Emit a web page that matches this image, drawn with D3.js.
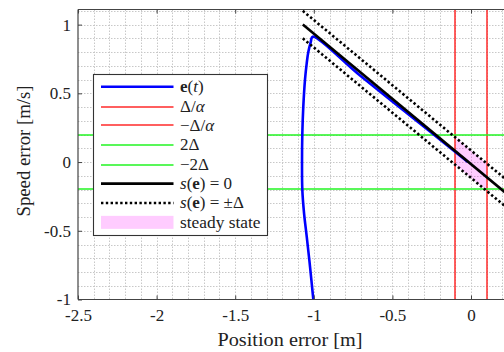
<!DOCTYPE html>
<html>
<head>
<meta charset="utf-8">
<script src="https://cdn.jsdelivr.net/npm/d3@7"></script>
<style>
  html, body { margin: 0; padding: 0; background: #fff; }
  svg { display: block; }
  svg text { font-family: "Liberation Serif", "DejaVu Serif", serif; fill: #222; }
</style>
</head>
<body>
<script>
// Phase-plane trajectory of the tracking error (position error vs speed error)
const xTicks = [-2.5, -2, -1.5, -1, -0.5, 0];
const xTickLabels = ["-2.5", "-2", "-1.5", "-1", "-0.5", "0"];
const yTicks = [-1, -0.5, 0, 0.5, 1];
const yTickLabels = ["-1", "-0.5", "0", "0.5", "1"];

// trajectory e(t): position error and speed error
const ePos = [-1.003, -1.024, -1.045, -1.062, -1.073, -1.075, -1.073, -1.067, -1.056, -1.045, -1.035, -1.020, -1.007, -0.706, -0.261, -0.020];
const eVel = [-1.0, -0.762, -0.543, -0.373, -0.204, -0.01, 0.209, 0.40, 0.60, 0.72, 0.80, 0.87, 0.912, 0.630, 0.222, 0.0];

// sliding surface s(e) = 0, drawn between these end points
const sPos = [-1.07, 0.30];
const sVel = [1.0, -0.30];

const Delta = 0.1;        // boundary layer width
const alpha = 1;          // position threshold Δ/α
const greenLevels = [2 * Delta, -2 * Delta];
const redLevels = [Delta / alpha, -Delta / alpha];

const RED = "#ff2a2a", GREEN = "#22f522";

const W = 504, H = 352;
const svg = d3.select("body").append("svg").attr("width", W).attr("height", H);

const x = d3.scaleLinear().domain([-2.5, 0.22]).range([78, 505.6]);
const y = d3.scaleLinear().domain([-1, 1.11]).range([299.5, 9.5]);
const crisp = v => Math.round(v) + 0.5;
// two-pixel band placement for the thin coloured threshold lines
const band = v => 2 * Math.floor(v / 2) + 1;

const x0 = x.range()[0], x1 = x.range()[1];
const y0 = y.range()[0], y1 = y.range()[1];

svg.append("defs").append("clipPath").attr("id", "plotClip")
  .append("rect").attr("x", x0).attr("y", y1).attr("width", x1 - x0).attr("height", y0 - y1);

// dotted grid every 0.1
const gridG = svg.append("g").attr("clip-path", "url(#plotClip)");
const xGrid = d3.range(-24, 3).map(i => i / 10);
const yGrid = d3.range(-9, 12).map(i => i / 10);
gridG.selectAll("line.gx").data(xGrid).join("line").attr("class", "gx")
  .attr("x1", d => crisp(x(d))).attr("x2", d => crisp(x(d))).attr("y1", y1).attr("y2", y0)
  .attr("stroke", "#c8c8c8").attr("stroke-width", 1).attr("stroke-dasharray", "1.5,1.5");
gridG.selectAll("line.gy").data(yGrid).join("line").attr("class", "gy")
  .attr("y1", d => crisp(y(d))).attr("y2", d => crisp(y(d))).attr("x1", x0).attr("x2", x1)
  .attr("stroke", "#c8c8c8").attr("stroke-width", 1).attr("stroke-dasharray", "1.5,1.5");

const plot = svg.append("g").attr("clip-path", "url(#plotClip)");

// surface line helper: speed on s(e)=0 at a given position
const sSlope = (sVel[1] - sVel[0]) / (sPos[1] - sPos[0]);
const sAt = p => sVel[0] + sSlope * (p - sPos[0]);

// steady state region: between ±Δ/α and s(e) = ±Δ
const pL = -Delta / alpha, pR = Delta / alpha;
const steady = [[pL, sAt(pL) + Delta], [pR, sAt(pR) + Delta], [pR, sAt(pR) - Delta], [pL, sAt(pL) - Delta]];
plot.append("path")
  .attr("d", d3.line().x(d => x(d[0])).y(d => y(d[1]))(steady) + "Z")
  .attr("fill", "#ff00ff").attr("fill-opacity", 0.2).attr("stroke", "none");

// thresholds
plot.selectAll("line.red").data(redLevels).join("line").attr("class", "red")
  .attr("x1", d => band(x(d))).attr("x2", d => band(x(d))).attr("y1", y1).attr("y2", y0)
  .attr("stroke", RED).attr("stroke-width", 1.5);
plot.selectAll("line.green").data(greenLevels).join("line").attr("class", "green")
  .attr("y1", d => band(y(d))).attr("y2", d => band(y(d))).attr("x1", x0).attr("x2", x1)
  .attr("stroke", GREEN).attr("stroke-width", 1.5);

// trajectory
const traj = ePos.map((p, i) => [p, eVel[i]]);
plot.append("path")
  .attr("d", d3.line().x(d => x(d[0])).y(d => y(d[1])).curve(d3.curveCatmullRom.alpha(0.5))(traj))
  .attr("fill", "none").attr("stroke", "#0000ff").attr("stroke-width", 2.6).attr("stroke-linejoin", "round");

// sliding surface and boundary layer
const sLine = d3.line().x(d => x(d[0])).y(d => y(d[1]));
plot.append("path")
  .attr("d", sLine([[sPos[0], sVel[0]], [sPos[1], sVel[1]]]))
  .attr("stroke", "#000").attr("stroke-width", 2.6).attr("fill", "none");
[Delta, -Delta].forEach(off => {
  plot.append("path")
    .attr("d", sLine([[sPos[0], sVel[0] + off], [sPos[1], sVel[1] + off]]))
    .attr("stroke", "#000").attr("stroke-width", 2.6).attr("fill", "none")
    .attr("stroke-dasharray", "2.4,2.4");
});

// axes frame and ticks
const axisColor = "#444";
svg.append("line").attr("x1", x0).attr("x2", x1).attr("y1", y0).attr("y2", y0).attr("stroke", axisColor).attr("stroke-width", 1.2);
svg.append("line").attr("x1", x0).attr("x2", x1).attr("y1", y1).attr("y2", y1).attr("stroke", axisColor).attr("stroke-width", 1.2);
svg.append("line").attr("x1", x0).attr("x2", x0).attr("y1", y1).attr("y2", y0).attr("stroke", axisColor).attr("stroke-width", 1.2);

const xAxisB = d3.axisBottom(x).tickValues(xTicks).tickSize(-4).tickPadding(9)
  .tickFormat((d, i) => xTickLabels[i]);
const gx = svg.append("g").attr("transform", `translate(0,${y0})`).call(xAxisB);
gx.attr("font-family", null).attr("font-size", null);
gx.select(".domain").remove();
gx.selectAll(".tick line").attr("stroke", axisColor);
gx.selectAll(".tick text").attr("font-size", 17).attr("fill", "#222").attr("dy", "0.72em");

const xAxisT = d3.axisTop(x).tickValues(xTicks).tickSize(-4).tickFormat("");
const gxt = svg.append("g").attr("transform", `translate(0,${y1})`).call(xAxisT);
gxt.select(".domain").remove();
gxt.selectAll(".tick line").attr("stroke", axisColor);

const yAxisL = d3.axisLeft(y).tickValues(yTicks).tickSize(-4).tickPadding(7)
  .tickFormat((d, i) => yTickLabels[i]);
const gy = svg.append("g").attr("transform", `translate(${x0},0)`).call(yAxisL);
gy.attr("font-family", null).attr("font-size", null);
gy.select(".domain").remove();
gy.selectAll(".tick line").attr("stroke", axisColor);
gy.selectAll(".tick text").attr("font-size", 17).attr("fill", "#222");

// axis titles
svg.append("text").attr("x", 290).attr("y", 346).attr("text-anchor", "middle")
  .attr("font-size", 19).attr("textLength", 145).attr("lengthAdjust", "spacingAndGlyphs")
  .text("Position error [m]");
svg.append("text").attr("transform", "translate(30,151) rotate(-90)").attr("text-anchor", "middle")
  .attr("font-size", 19).attr("textLength", 131).attr("lengthAdjust", "spacingAndGlyphs")
  .text("Speed error [m/s]");

// legend
const legend = svg.append("g");
legend.append("rect").attr("x", 93.5).attr("y", 74.5).attr("width", 174).attr("height", 161)
  .attr("fill", "#fff").attr("stroke", "#333").attr("stroke-width", 1.1);

const rowY = d3.range(8).map(i => 86.7 + i * 19.38);
const items = [
  { stroke: "#0000ff", w: 2.6 },
  { stroke: RED, w: 1.5 },
  { stroke: RED, w: 1.5 },
  { stroke: GREEN, w: 1.5 },
  { stroke: GREEN, w: 1.5 },
  { stroke: "#000", w: 2.6 },
  { stroke: "#000", w: 2.6, dash: "2.4,2.4" },
  { patch: true }
];
items.forEach((it, i) => {
  if (it.patch) {
    legend.append("rect").attr("x", 101).attr("y", rowY[i] - 6.5).attr("width", 72.5).attr("height", 13)
      .attr("fill", "#ff00ff").attr("fill-opacity", 0.2);
  } else {
    const yy = it.w < 2 ? band(rowY[i]) : rowY[i];
    legend.append("line").attr("x1", 101).attr("x2", 173.5).attr("y1", yy).attr("y2", yy)
      .attr("stroke", it.stroke).attr("stroke-width", it.w).attr("stroke-dasharray", it.dash || null);
  }
});

const fs = 17;
function addLabel(i, parts, len) {
  const t = legend.append("text").attr("x", 180).attr("y", rowY[i] + 5.5).attr("font-size", fs);
  if (len) t.attr("textLength", len).attr("lengthAdjust", "spacingAndGlyphs");
  parts.forEach(p => {
    const s = t.append("tspan").text(p.t);
    if (p.b) s.attr("font-weight", "bold");
    if (p.i) s.attr("font-style", "italic");
  });
}
addLabel(0, [{ t: "e", b: true }, { t: "(" }, { t: "t", i: true }, { t: ")" }]);
addLabel(1, [{ t: "Δ/" }, { t: "α", i: true }]);
addLabel(2, [{ t: "−Δ/" }, { t: "α", i: true }]);
addLabel(3, [{ t: "2Δ" }]);
addLabel(4, [{ t: "−2Δ" }]);
addLabel(5, [{ t: "s", i: true }, { t: "(" }, { t: "e", b: true }, { t: ") = 0" }]);
addLabel(6, [{ t: "s", i: true }, { t: "(" }, { t: "e", b: true }, { t: ") = ±Δ" }]);
addLabel(7, [{ t: "steady state" }], 80.5);
</script>
</body>
</html>
